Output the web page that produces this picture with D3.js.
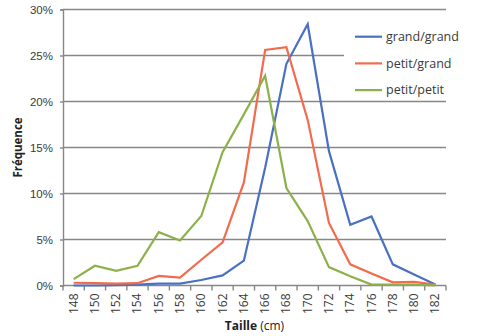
<!DOCTYPE html>
<html>
<head>
<meta charset="utf-8">
<script src="https://cdn.jsdelivr.net/npm/d3@7"></script>
<style>
  html, body { margin: 0; padding: 0; background: #fff; }
  svg { display: block; font-family: "Open Sans", "Noto Sans", sans-serif; }
</style>
</head>
<body>
<svg id="chart" width="480" height="336"></svg>
<script>
// Height classes (cm)
const tailles = [148, 150, 152, 154, 156, 158, 160, 162, 164, 166, 168, 170, 172, 174, 176, 178, 180, 182];

// Frequency (%) of each height class, per parent pairing
const grandGrand = [0.0, 0.0, 0.05, 0.1, 0.2, 0.2, 0.6, 1.1, 2.7, 12.8, 24.1, 28.4, 14.6, 6.6, 7.5, 2.3, 1.2, 0.1];
const petitGrand = [0.3, 0.25, 0.2, 0.25, 1.05, 0.85, 2.8, 4.7, 11.2, 25.6, 25.9, 18.0, 6.8, 2.3, 1.3, 0.35, 0.4, 0.1];
const petitPetit = [0.7, 2.15, 1.6, 2.15, 5.8, 4.9, 7.55, 14.5, 18.6, 22.8, 10.6, 7.0, 2.0, 1.0, 0.1, 0.1, 0.1, 0.0];

const seriesNames = ["grand/grand", "petit/grand", "petit/petit"];
const seriesColors = ["#4a70c2", "#f26b4c", "#8cb14b"];
const yTicks = [0, 5, 10, 15, 20, 25, 30];

const series = [
  { name: seriesNames[0], color: seriesColors[0], values: grandGrand },
  { name: seriesNames[1], color: seriesColors[1], values: petitGrand },
  { name: seriesNames[2], color: seriesColors[2], values: petitPetit }
];

const svg = d3.select("#chart");
const margin = { left: 63, right: 34, top: 9.5, bottom: 50.5 };
const W = 480, H = 336;
const plotW = W - margin.left - margin.right;
const plotH = H - margin.top - margin.bottom;

const x = d3.scaleBand().domain(tailles).range([margin.left, margin.left + plotW]).paddingInner(0).paddingOuter(0);
const y = d3.scaleLinear().domain([0, 30]).range([margin.top + plotH, margin.top]);

const gridColor = "#878787";
const textColor = "#3a3a3a";

// Horizontal gridlines
svg.append("g")
  .selectAll("line")
  .data(yTicks.filter(d => d > 0))
  .join("line")
  .attr("x1", margin.left).attr("x2", margin.left + plotW)
  .attr("y1", d => y(d)).attr("y2", d => y(d))
  .attr("stroke", gridColor).attr("stroke-width", 1.4);

// Y axis
const yAxis = svg.append("g")
  .attr("transform", `translate(${margin.left},0)`)
  .call(d3.axisLeft(y).tickValues(yTicks).tickFormat(d => d + "%").tickSize(3).tickPadding(7));
yAxis.select(".domain").attr("stroke", gridColor).attr("stroke-width", 1.4);
yAxis.selectAll(".tick line").attr("stroke", gridColor).attr("stroke-width", 1.4);
yAxis.selectAll("text").attr("fill", textColor).attr("font-size", 11.5);

// X axis with ticks at the class boundaries
const xAxisG = svg.append("g")
  .attr("transform", `translate(0,${margin.top + plotH})`);
xAxisG.append("line")
  .attr("x1", margin.left).attr("x2", margin.left + plotW)
  .attr("stroke", gridColor).attr("stroke-width", 1.4);
const bounds = tailles.map(t => x(t)).concat([x(tailles[tailles.length - 1]) + x.bandwidth()]);
xAxisG.selectAll("line.tk")
  .data(bounds)
  .join("line").attr("class", "tk")
  .attr("x1", d => d).attr("x2", d => d)
  .attr("y1", 0).attr("y2", 5)
  .attr("stroke", gridColor).attr("stroke-width", 1.4);
xAxisG.selectAll("text")
  .data(tailles)
  .join("text")
  .attr("transform", d => `translate(${x(d) + x.bandwidth() / 2 + 4},8) rotate(-90)`)
  .attr("text-anchor", "end")
  .attr("fill", textColor)
  .attr("font-size", 12)
  .text(d => d);

// Lines
const line = d3.line()
  .x((d, i) => x(tailles[i]) + x.bandwidth() / 2)
  .y(d => y(d));

svg.append("g")
  .selectAll("path")
  .data(series)
  .join("path")
  .attr("d", d => line(d.values))
  .attr("fill", "none")
  .attr("stroke", d => d.color)
  .attr("stroke-width", 2.2)
  .attr("stroke-linejoin", "miter");

// Legend
const legend = svg.append("g");
legend.append("rect")
  .attr("x", 344).attr("y", 22).attr("width", 103).attr("height", 76)
  .attr("fill", "#fff");
const items = legend.selectAll("g.item")
  .data(series)
  .join("g").attr("class", "item")
  .attr("transform", (d, i) => `translate(355,${36.7 + i * 26.7})`);
items.append("line")
  .attr("x1", 0).attr("x2", 27)
  .attr("stroke", d => d.color).attr("stroke-width", 2.2);
items.append("text")
  .attr("x", 31).attr("dy", "0.35em")
  .attr("fill", textColor)
  .attr("font-size", 12.5)
  .text(d => d.name);

// Axis titles
svg.append("text")
  .attr("transform", `translate(22,${margin.top + plotH / 2}) rotate(-90)`)
  .attr("text-anchor", "middle")
  .attr("font-size", 11.5).attr("font-weight", "bold")
  .attr("fill", "#222")
  .text("Fréquence");

const xt = svg.append("text")
  .attr("x", margin.left + plotW / 2).attr("y", 330)
  .attr("text-anchor", "middle")
  .attr("font-size", 12)
  .attr("fill", "#222");
xt.append("tspan").attr("font-weight", "bold").text("Taille");
xt.append("tspan").text(" (cm)");
</script>
</body>
</html>
